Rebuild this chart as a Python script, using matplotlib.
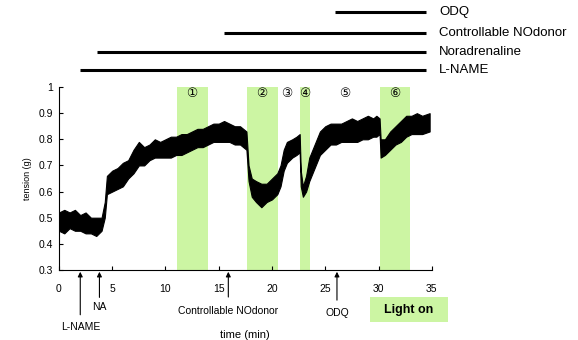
import matplotlib.pyplot as plt
import matplotlib.transforms as mtransforms
from matplotlib.patches import Rectangle

plt.rcParams['font.family'] = ['Liberation Sans', 'DejaVu Sans', 'Noto Sans CJK JP']

# ===================== data =====================
# tension trace, read as lower / upper edge of the noisy band
t_min = [0.0, 0.5, 1.0, 1.5, 2.0, 2.5, 3.0, 3.5, 4.0, 4.3, 4.5, 5.0, 5.5, 6.0,
         6.5, 7.0, 7.5, 8.0, 8.5, 9.0, 9.5, 10.0, 10.5, 11.0, 11.5, 12.0, 12.5,
         13.0, 13.5, 14.0, 14.5, 15.0, 15.5, 16.0, 16.5, 17.0, 17.3, 17.6, 17.8,
         18.1, 18.5, 19.0, 19.5, 20.0, 20.5, 20.8, 21.1, 21.4, 21.9, 22.3, 22.6,
         22.7, 22.9, 23.2, 23.5, 24.0, 24.5, 25.0, 25.5, 26.0, 26.5, 27.0, 27.5,
         28.0, 28.5, 29.0, 29.5, 29.8, 30.1, 30.2, 30.6, 31.1, 31.6, 32.1, 32.6,
         33.1, 33.6, 34.1, 34.8]
tension_low = [.45, .44, .46, .45, .45, .44, .44, .43, .45, .50, .59, .60, .61, .62,
               .65, .67, .70, .70, .72, .73, .73, .73, .73, .74, .74, .75, .76,
               .77, .77, .78, .79, .79, .79, .79, .78, .78, .77, .76, .64,
               .58, .56, .54, .56, .57, .59, .62, .68, .71, .73, .74, .75,
               .62, .58, .60, .64, .69, .74, .76, .78, .78, .79, .79, .79,
               .79, .80, .80, .81, .81, .82, .73, .74, .76, .78, .79, .81,
               .82, .82, .82, .83]
tension_high = [.52, .53, .52, .53, .51, .52, .50, .50, .50, .56, .66, .68, .69, .71,
                .72, .76, .79, .77, .78, .80, .79, .80, .81, .81, .82, .82, .83,
                .84, .84, .85, .86, .86, .87, .86, .85, .85, .84, .83, .70,
                .65, .64, .63, .63, .65, .67, .70, .76, .79, .80, .81, .82,
                .68, .62, .66, .73, .78, .83, .85, .86, .86, .86, .87, .88,
                .87, .88, .89, .88, .89, .88, .80, .80, .83, .85, .87, .89,
                .89, .90, .89, .90]

# light-on periods (start, end) in min, and their labels
light_start = [11.1, 17.7, 22.6, 30.1]
light_end = [14.0, 20.6, 23.6, 33.0]
period_labels = ['①', '②', '③', '④', '⑤', '⑥']
period_x = [12.5, 19.0, 21.4, 23.1, 26.8, 31.5]

# drug bars on top
drug_names = ['L-NAME', 'Noradrenaline', 'Controllable NOdonor', 'ODQ']
drug_start = [2.0, 3.6, 15.5, 25.9]
drug_end = 34.5

# arrows under the axis
arrow_names = ['L-NAME', 'NA', 'Controllable NOdonor', 'ODQ']
arrow_x = [2.0, 3.8, 15.9, 26.1]

GREEN = '#ccf5a3'

# ===================== figure =====================
fig = plt.figure(figsize=(5.78, 3.40), dpi=100)
ax = fig.add_axes([0.102, 0.206, 0.645, 0.538])

for s, e in zip(light_start, light_end):
    ax.axvspan(s, e, color=GREEN, lw=0, zorder=0)

ax.fill_between(t_min, tension_low, tension_high, color='black', lw=0.8,
                edgecolor='black', zorder=2)

for lab, x in zip(period_labels, period_x):
    ax.text(x, 0.975, lab, ha='center', va='center', fontsize=9,
            family=['DejaVu Sans', 'Noto Sans CJK JP'])

ax.set_xlim(0, 35)
ax.set_ylim(0.3, 1.0)
ax.set_xticks([0, 5, 10, 15, 20, 25, 30, 35])
ax.set_yticks([0.3, 0.4, 0.5, 0.6, 0.7, 0.8, 0.9, 1.0])
ax.set_yticklabels(['0.3', '0.4', '0.5', '0.6', '0.7', '0.8', '0.9', '1'])
ax.tick_params(direction='in', length=3, width=0.8, labelsize=7.5, pad=4)
ax.tick_params(axis='x', pad=10)
ax.spines['top'].set_visible(False)
ax.spines['right'].set_visible(False)
ax.set_ylabel('tension (g)', fontsize=6.5, labelpad=5)

# drug bars above the plot
trans = mtransforms.blended_transform_factory(ax.transData, ax.transAxes)
bar_y = [1.093, 1.19, 1.295, 1.41]
for name, s, y in zip(drug_names, drug_start, bar_y):
    ax.plot([s, drug_end], [y, y], color='black', lw=2.2, transform=trans,
            clip_on=False, solid_capstyle='butt')
    ax.text(drug_end + 1.2, y, name, transform=trans, va='center', ha='left',
            fontsize=9.5)

# arrows below the axis
arrow_tail = [-0.245, -0.15, -0.148, -0.165]
text_y = [-0.285, -0.175, -0.197, -0.207]
for name, x, ta, tx in zip(arrow_names, arrow_x, arrow_tail, text_y):
    ax.annotate('', xy=(x, -0.01), xytext=(x, ta), xycoords=trans,
                textcoords=trans,
                arrowprops=dict(arrowstyle='-|>', color='black', lw=0.8,
                                mutation_scale=7, shrinkA=0, shrinkB=0))
    ax.text(x, tx, name, transform=trans, ha='center', va='top', fontsize=7.5)

ax.text(17.5, -0.355, 'time (min)', transform=trans, ha='center',
        va='center', fontsize=8)

# "Light on" legend box
fig.patches.append(Rectangle((370 / 578, 1 - 322 / 340), 78 / 578, 25 / 340,
                             transform=fig.transFigure, color=GREEN, lw=0))
fig.text(409 / 578, 1 - 309.5 / 340, 'Light on', ha='center', va='center',
         fontsize=9, weight='bold')

fig.savefig('out.png', dpi=100)
